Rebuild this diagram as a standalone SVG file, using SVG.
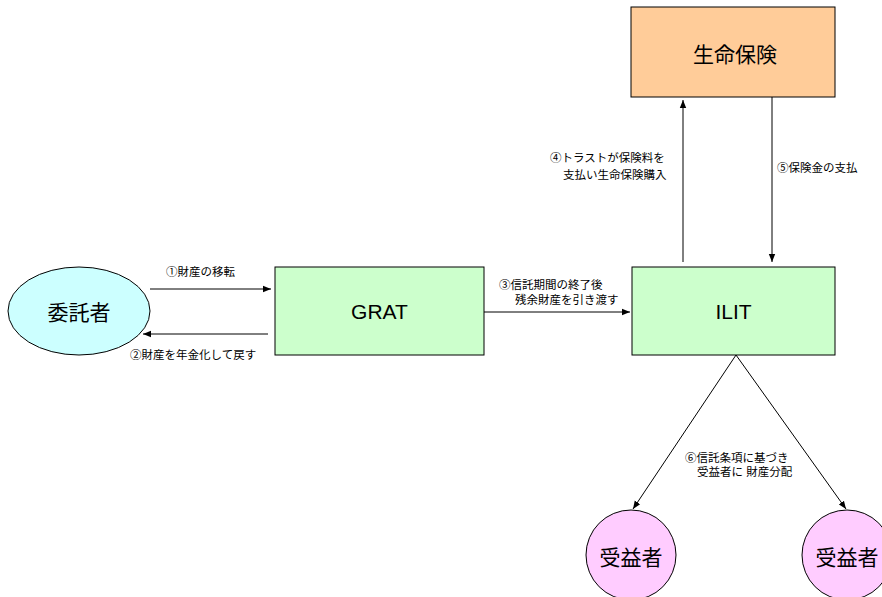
<svg xmlns="http://www.w3.org/2000/svg" width="882" height="597" viewBox="0 0 882 597">
<style>
.box{stroke:#000;stroke-width:1}
.lbl{font-family:"Liberation Sans","Noto Sans CJK JP",sans-serif;font-size:11.5px;fill:#000}
.big{font-family:"Liberation Sans","Noto Sans CJK JP",sans-serif;font-size:21px;fill:#000;text-anchor:middle;dominant-baseline:central}
.ln{stroke:#000;stroke-width:1;fill:none;marker-end:url(#ah)}
</style>
<defs>
<marker id="ah" viewBox="0 0 10 10" refX="10" refY="5" markerWidth="8" markerHeight="8" markerUnits="userSpaceOnUse" orient="auto">
<path d="M0,1 L10,5 L0,9 Z" fill="#000"/>
</marker>
</defs>
<rect width="882" height="597" fill="#fff"/>
<g id="itaku">
<ellipse class="box" cx="79" cy="311" rx="71" ry="44" fill="#ccffff"/>
<text class="big" x="79" y="312">委託者</text>
</g>
<g id="grat">
<rect class="box" x="275" y="267" width="209" height="88" fill="#ccffcc"/>
<text class="big" x="379.5" y="311">GRAT</text>
</g>
<g id="ilit">
<rect class="box" x="632" y="267" width="203" height="88" fill="#ccffcc"/>
<text class="big" x="733.5" y="311">ILIT</text>
</g>
<g id="seimei">
<rect class="box" x="631" y="7" width="204" height="90" fill="#ffcc99"/>
<text class="big" x="735" y="54">生命保険</text>
</g>
<g id="juekisha1">
<circle class="box" cx="631" cy="555" r="45" fill="#ffccff"/>
<text class="big" x="631" y="557">受益者</text>
</g>
<g id="juekisha2">
<circle class="box" cx="847" cy="555" r="45" fill="#ffccff"/>
<text class="big" x="847" y="557">受益者</text>
</g>
<g id="connectors">
<line class="ln" x1="150" y1="289" x2="271" y2="289"/>
<line class="ln" x1="268" y1="334" x2="143" y2="334"/>
<line class="ln" x1="484" y1="312" x2="630" y2="312"/>
<line class="ln" x1="683" y1="262" x2="683" y2="100"/>
<line class="ln" x1="772" y1="97" x2="772" y2="262"/>
<line class="ln" x1="736" y1="355" x2="633" y2="509"/>
<line class="ln" x1="736" y1="355" x2="846" y2="509"/>
</g>
<g id="labels">
<text class="lbl" x="166" y="276">①財産の移転</text>
<text class="lbl" x="130" y="359">②財産を年金化して戻す</text>
<text class="lbl" x="499" y="289">③信託期間の終了後</text>
<text class="lbl" x="515" y="304">残余財産を引き渡す</text>
<text class="lbl" x="550" y="162">④トラストが保険料を</text>
<text class="lbl" x="563" y="179">支払い生命保険購入</text>
<text class="lbl" x="777" y="172">⑤保険金の支払</text>
<text class="lbl" x="685" y="462">⑥信託条項に基づき</text>
<text class="lbl" x="697" y="476">受益者に 財産分配</text>
</g>
</svg>
